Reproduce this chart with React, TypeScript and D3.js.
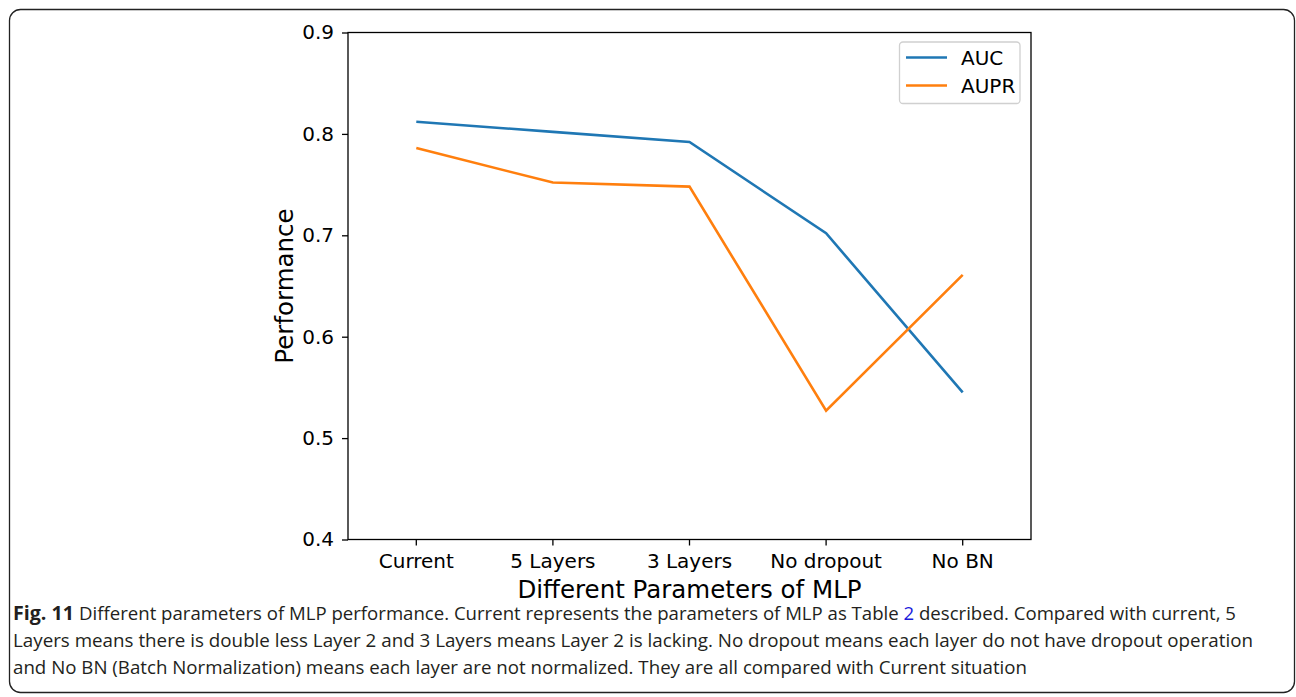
import React, { useEffect, useRef } from "react";
import * as d3 from "d3";

// chart data
const categories = ["Current", "5 Layers", "3 Layers", "No dropout", "No BN"];
const aucValues = [0.812, 0.802, 0.792, 0.702, 0.545];
const auprValues = [0.786, 0.752, 0.748, 0.527, 0.661];
const yTicks = [0.4, 0.5, 0.6, 0.7, 0.8, 0.9];
const seriesNames = ["AUC", "AUPR"];
const seriesColors = ["#1f77b4", "#ff7f0e"];

const captionLines = [
  "Different parameters of MLP performance. Current represents the parameters of MLP as Table ",
  "Layers means there is double less Layer 2 and 3 Layers means Layer 2 is lacking. No dropout means each layer do not have dropout operation",
  "and No BN (Batch Normalization) means each layer are not normalized. They are all compared with Current situation",
];

const App = () => {
  const ref = useRef<SVGSVGElement>(null);

  useEffect(() => {
    const svg = d3.select(ref.current);
    svg.selectAll("*").remove();

    const width = 1296, height = 697;
    const margin = { top: 32.5, right: 265, bottom: 157.5, left: 348 };
    const font = "DejaVu Sans";

    // outer rounded frame
    svg.append("rect")
      .attr("x", 9.5).attr("y", 9.5)
      .attr("width", 1285).attr("height", 683)
      .attr("rx", 11)
      .attr("fill", "none")
      .attr("stroke", "#222")
      .attr("stroke-width", 1.3);

    const x = d3.scaleBand()
      .domain(categories)
      .range([margin.left, width - margin.right])
      .paddingInner(0)
      .paddingOuter(0);
    const cx = (c: string) => (x(c) as number) + x.bandwidth() / 2;

    const y = d3.scaleLinear()
      .domain([0.4, 0.9])
      .range([height - margin.bottom, margin.top]);

    // Axes
    const xAxis = svg.append("g")
      .attr("transform", `translate(0,${height - margin.bottom})`)
      .call(d3.axisBottom(x).tickSize(6).tickPadding(8).tickSizeOuter(0));
    const yAxis = svg.append("g")
      .attr("transform", `translate(${margin.left},0)`)
      .call(d3.axisLeft(y).tickValues(yTicks).tickFormat(d3.format(".1f")).tickSize(6).tickPadding(8).tickSizeOuter(0));

    [xAxis, yAxis].forEach((g) => {
      g.select(".domain").remove();
      g.selectAll("line").attr("stroke", "#000").attr("stroke-width", 1.3);
      g.selectAll("text")
        .attr("fill", "#000")
        .style("font-family", font)
        .style("font-size", "20px");
    });

    // spines
    svg.append("rect")
      .attr("x", margin.left).attr("y", margin.top)
      .attr("width", width - margin.right - margin.left)
      .attr("height", height - margin.bottom - margin.top)
      .attr("fill", "none")
      .attr("stroke", "#000")
      .attr("stroke-width", 1.3);

    // Lines
    const line = d3.line<number>()
      .x((_, i) => cx(categories[i]))
      .y((d) => y(d));

    [aucValues, auprValues].forEach((vals, i) => {
      svg.append("path")
        .datum(vals)
        .attr("fill", "none")
        .attr("stroke", seriesColors[i])
        .attr("stroke-width", 2.6)
        .attr("stroke-linejoin", "miter")
        .attr("d", line);
    });

    // axis labels
    svg.append("text")
      .attr("x", (margin.left + width - margin.right) / 2)
      .attr("y", 598)
      .attr("text-anchor", "middle")
      .style("font-family", font)
      .style("font-size", "24.5px")
      .text("Different Parameters of MLP");

    svg.append("text")
      .attr("transform", `translate(293,${(margin.top + height - margin.bottom) / 2}) rotate(-90)`)
      .attr("text-anchor", "middle")
      .style("font-family", font)
      .style("font-size", "24.5px")
      .text("Performance");

    // Legend
    const legend = svg.append("g");
    legend.append("rect")
      .attr("x", 899.5).attr("y", 42)
      .attr("width", 120.5).attr("height", 61.5)
      .attr("rx", 3.5)
      .attr("fill", "#fff")
      .attr("fill-opacity", 0.8)
      .attr("stroke", "#d0d0d0")
      .attr("stroke-width", 1.3);
    seriesNames.forEach((name, i) => {
      const ly = 57.5 + i * 28;
      legend.append("line")
        .attr("x1", 906).attr("x2", 947)
        .attr("y1", ly).attr("y2", ly)
        .attr("stroke", seriesColors[i])
        .attr("stroke-width", 2.6);
      legend.append("text")
        .attr("x", 961).attr("y", ly + 7)
        .style("font-family", font)
        .style("font-size", "20px")
        .text(name);
    });

    // Caption
    const cap = svg.append("g")
      .style("font-family", "'Open Sans', 'Noto Sans', sans-serif")
      .style("font-size", "18px")
      .attr("fill", "#231f20");
    const t1 = cap.append("text")
      .attr("x", 13).attr("y", 620)
      .attr("textLength", 1223)
      .attr("lengthAdjust", "spacingAndGlyphs");
    t1.append("tspan").style("font-weight", "bold").style("font-size", "19px").text("Fig. 11 ");
    t1.append("tspan").text(captionLines[0]);
    t1.append("tspan").attr("fill", "#1a1adb").text("2");
    t1.append("tspan").text(" described. Compared with current, 5");

    cap.append("text")
      .attr("x", 13).attr("y", 647)
      .attr("textLength", 1240)
      .attr("lengthAdjust", "spacingAndGlyphs")
      .text(captionLines[1]);
    cap.append("text")
      .attr("x", 13).attr("y", 674)
      .attr("textLength", 1014)
      .attr("lengthAdjust", "spacingAndGlyphs")
      .text(captionLines[2]);
  }, []);

  return (
    <svg
      ref={ref}
      width={1296}
      height={697}
      style={{ position: "absolute", left: 0, top: 0, background: "#fff" }}
    />
  );
};

export default App;
